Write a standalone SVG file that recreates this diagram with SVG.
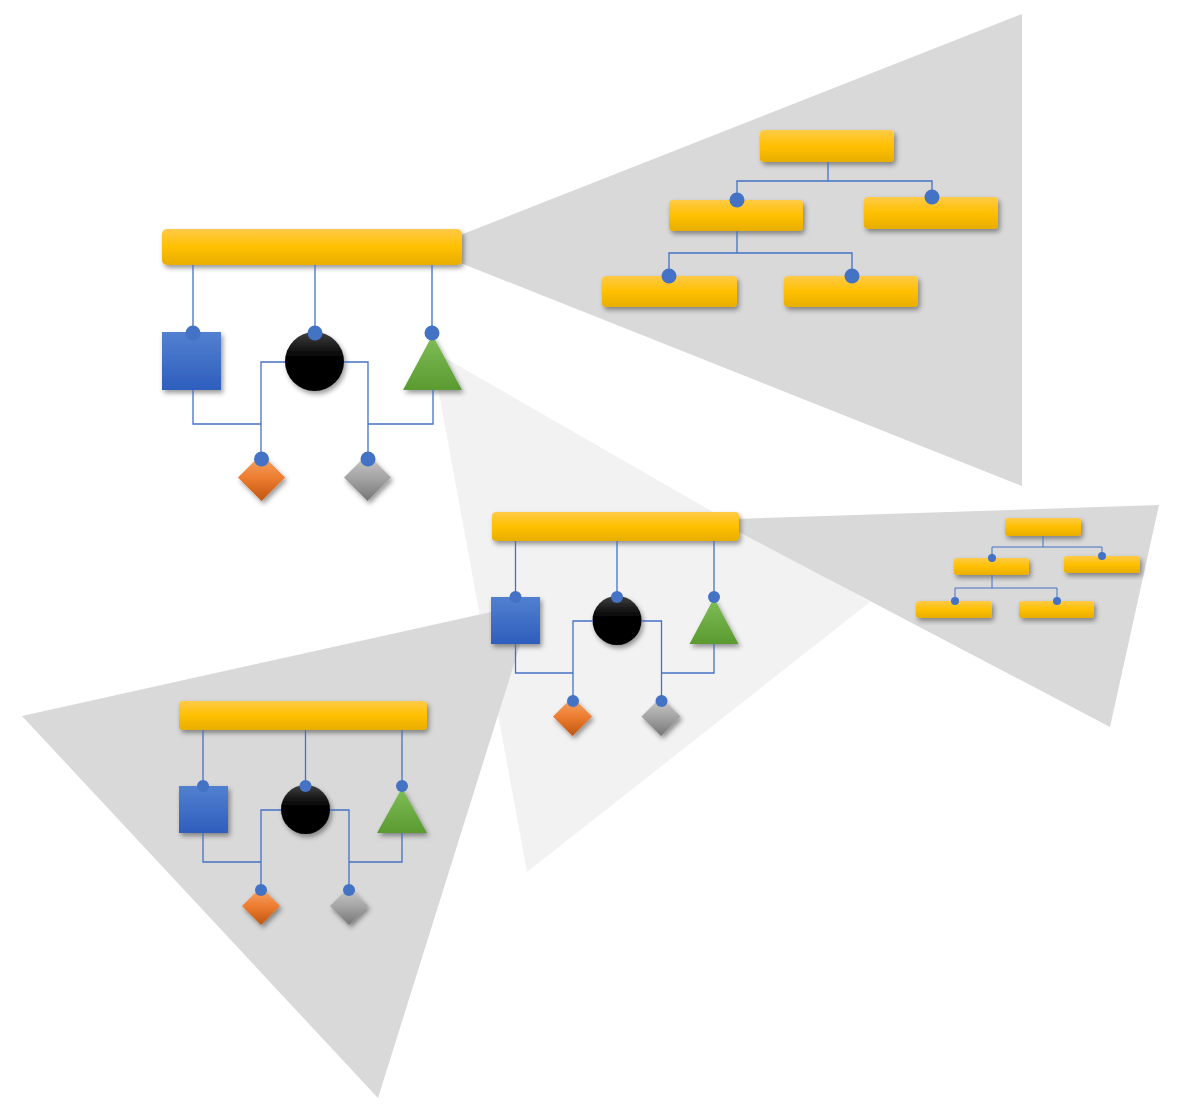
<svg xmlns="http://www.w3.org/2000/svg" width="1190" height="1120" viewBox="0 0 1190 1120">
  <defs>
    <linearGradient id="gY" x1="0" y1="0" x2="0" y2="1">
      <stop offset="0" stop-color="#ffca48"/>
      <stop offset="0.5" stop-color="#ffc000"/>
      <stop offset="1" stop-color="#e8ae00"/>
    </linearGradient>
    <linearGradient id="gB" x1="0" y1="0" x2="0" y2="1">
      <stop offset="0" stop-color="#5280d0"/>
      <stop offset="1" stop-color="#2e5ebd"/>
    </linearGradient>
    <linearGradient id="gK" x1="0" y1="0" x2="0" y2="1">
      <stop offset="0" stop-color="#404040"/>
      <stop offset="0.45" stop-color="#000"/>
      <stop offset="1" stop-color="#000"/>
    </linearGradient>
    <linearGradient id="gG" x1="0" y1="0" x2="0" y2="1">
      <stop offset="0" stop-color="#80be58"/>
      <stop offset="1" stop-color="#5a9a30"/>
    </linearGradient>
    <linearGradient id="gO" x1="0" y1="0" x2="0" y2="1">
      <stop offset="0" stop-color="#f5a86c"/>
      <stop offset="0.5" stop-color="#ed7d31"/>
      <stop offset="1" stop-color="#c0560f"/>
    </linearGradient>
    <linearGradient id="gS" x1="0" y1="0" x2="0" y2="1">
      <stop offset="0" stop-color="#cccccc"/>
      <stop offset="0.5" stop-color="#a5a5a5"/>
      <stop offset="1" stop-color="#767676"/>
    </linearGradient>
    <filter id="sh" x="-20%" y="-20%" width="140%" height="160%">
      <feDropShadow dx="2" dy="3" stdDeviation="2.5" flood-color="#000" flood-opacity="0.4"/>
    </filter>
  </defs>
  <style>
    .dk { fill: #d9d9d9; }
    .lt { fill: #f2f2f2; }
    .bar { fill: url(#gY); filter: url(#sh); }
    .sq { fill: url(#gB); filter: url(#sh); }
    .ci { fill: url(#gK); filter: url(#sh); }
    .tr { fill: url(#gG); filter: url(#sh); }
    .do { fill: url(#gO); filter: url(#sh); }
    .ds { fill: url(#gS); filter: url(#sh); }
    .ln { fill: none; stroke: #4472c4; stroke-width: 1.3; }
    .ln2 { fill: none; stroke: #4472c4; stroke-width: 1; }
    .dot { fill: #4472c4; }
  </style>

  <g id="backgrounds">
    <polygon class="lt" points="431,350 870,602 527,872"/>
    <polygon class="dk" points="458,236 1022,14 1022,486 458,262"/>
    <polygon class="dk" points="735,519 1159,505 1110,727 735,530"/>
    <polygon class="dk" points="22,716 491,612 520,645 378,1098"/>
  </g>

  <!-- Diagram 1 -->
  <g id="d1-bar"><rect class="bar" x="162" y="229" width="300" height="36" rx="5"/></g>
  <g id="d1-square"><rect class="sq" x="162" y="332" width="59" height="58"/></g>
  <g id="d1-circle"><circle class="ci" cx="314.5" cy="361.5" r="29.5"/></g>
  <g id="d1-triangle"><polygon class="tr" points="432.5,335 462,390 403,390"/></g>
  <g id="d1-diamond-orange"><polygon class="do" points="261.5,454 285,477.5 261.5,501 238,477.5"/></g>
  <g id="d1-diamond-grey"><polygon class="ds" points="367.5,454 391,477.5 367.5,501 344,477.5"/></g>

  <!-- Diagram 2 -->
  <g id="d2-bar"><rect class="bar" x="492" y="512" width="247" height="29" rx="4"/></g>
  <g id="d2-square"><rect class="sq" x="491" y="597" width="49" height="47"/></g>
  <g id="d2-circle"><circle class="ci" cx="617" cy="620.5" r="24.5"/></g>
  <g id="d2-triangle"><polygon class="tr" points="714,598 738.5,644 689.5,644"/></g>
  <g id="d2-diamond-orange"><polygon class="do" points="572.5,697 592,716.5 572.5,736 553,716.5"/></g>
  <g id="d2-diamond-grey"><polygon class="ds" points="661,697 680.5,716.5 661,736 641.5,716.5"/></g>

  <!-- Diagram 3 -->
  <g id="d3-bar"><rect class="bar" x="179" y="701" width="248" height="29" rx="4"/></g>
  <g id="d3-square"><rect class="sq" x="179" y="786" width="49" height="47"/></g>
  <g id="d3-circle"><circle class="ci" cx="305.5" cy="809.5" r="24.5"/></g>
  <g id="d3-triangle"><polygon class="tr" points="402,788 427,833 377,833"/></g>
  <g id="d3-diamond-orange"><polygon class="do" points="261,887 280,906 261,925 242,906"/></g>
  <g id="d3-diamond-grey"><polygon class="ds" points="349,887 368,906 349,925 330,906"/></g>

  <!-- Top org chart -->
  <g id="org1-top"><rect class="bar" x="760" y="130" width="134" height="32" rx="4"/></g>
  <g id="org1-mid-left"><rect class="bar" x="669" y="200" width="134" height="31" rx="4"/></g>
  <g id="org1-mid-right"><rect class="bar" x="864" y="197" width="134" height="32" rx="4"/></g>
  <g id="org1-bottom-left"><rect class="bar" x="602" y="276" width="135" height="31" rx="4"/></g>
  <g id="org1-bottom-right"><rect class="bar" x="784" y="276" width="134" height="31" rx="4"/></g>

  <!-- Small org chart -->
  <g id="org2-top"><rect class="bar" x="1005" y="518" width="76" height="18" rx="3"/></g>
  <g id="org2-mid-left"><rect class="bar" x="954" y="558" width="75" height="17" rx="3"/></g>
  <g id="org2-mid-right"><rect class="bar" x="1064" y="556" width="76" height="17" rx="3"/></g>
  <g id="org2-bottom-left"><rect class="bar" x="916" y="601" width="76" height="17" rx="3"/></g>
  <g id="org2-bottom-right"><rect class="bar" x="1019" y="601" width="75" height="17" rx="3"/></g>

  <g id="connectors">
    <path class="ln" d="M193,265 V333 M315,265 V333 M432,265 V333 M193,390 V424 H261 V459 M285,362 H261 V459 M344,362 H368 V459 M433,390 V424 H368"/>
    <path class="ln" d="M515.5,541 V597 M617,541 V597 M714,541 V597 M515.5,644 V673 H573 V701 M593,621 H573 V701 M642,621 H661.5 V701 M714,644 V673 H661.5"/>
    <path class="ln" d="M203,730 V786 M305.5,730 V786 M402,730 V786 M203,833 V862 H261 V890 M281,810 H261 V890 M330,810 H349 V890 M402,833 V862 H349"/>
    <path class="ln" d="M828,162 V181 M737,200 V181 H932 V197 M737,231 V253 M669,276 V253 H852 V276"/>
    <path class="ln2" d="M1043,536 V547 M992,558 V547 H1102 V556 M992,575 V588 M955,601 V588 H1057 V601"/>

    <circle class="dot" cx="193" cy="333" r="7.5"/>
    <circle class="dot" cx="315" cy="333" r="7.5"/>
    <circle class="dot" cx="432" cy="333" r="7.5"/>
    <circle class="dot" cx="261.5" cy="459" r="7.5"/>
    <circle class="dot" cx="368" cy="459" r="7.5"/>

    <circle class="dot" cx="515.5" cy="597" r="6"/>
    <circle class="dot" cx="617" cy="597" r="6"/>
    <circle class="dot" cx="714" cy="597" r="6"/>
    <circle class="dot" cx="573" cy="701" r="6"/>
    <circle class="dot" cx="661.5" cy="701" r="6"/>

    <circle class="dot" cx="203" cy="786" r="6"/>
    <circle class="dot" cx="305.5" cy="786" r="6"/>
    <circle class="dot" cx="402" cy="786" r="6"/>
    <circle class="dot" cx="261" cy="890" r="6"/>
    <circle class="dot" cx="349" cy="890" r="6"/>

    <circle class="dot" cx="737" cy="200" r="7.5"/>
    <circle class="dot" cx="932" cy="197" r="7.5"/>
    <circle class="dot" cx="669" cy="276" r="7.5"/>
    <circle class="dot" cx="852" cy="276" r="7.5"/>

    <circle class="dot" cx="992" cy="558" r="4"/>
    <circle class="dot" cx="1102" cy="556" r="4"/>
    <circle class="dot" cx="955" cy="601" r="4"/>
    <circle class="dot" cx="1057" cy="601" r="4"/>
  </g>
</svg>
